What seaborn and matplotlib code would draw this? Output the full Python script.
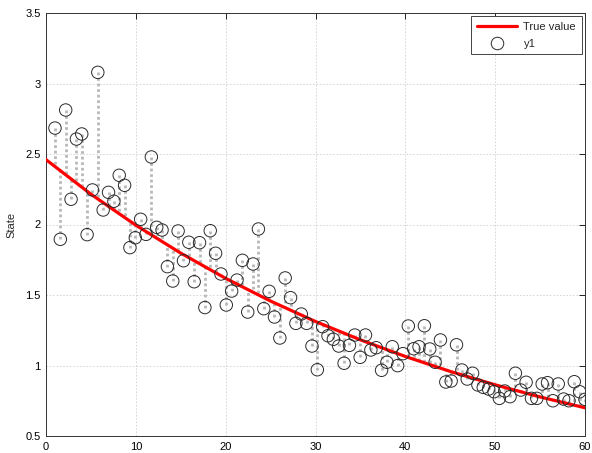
import numpy as np
import pandas as pd
import matplotlib
matplotlib.use("Agg")
import matplotlib.pyplot as plt
from matplotlib.lines import Line2D
import seaborn as sns

# Sample times and measured states
t = np.linspace(1, 60, 100)
y1 = [
    2.684, 1.895, 2.812, 2.179, 2.606, 2.642, 1.928, 2.245, 3.079, 2.103,
    2.228, 2.165, 2.349, 2.278, 1.836, 1.906, 2.037, 1.930, 2.479, 1.980,
    1.961, 1.701, 1.599, 1.954, 1.743, 1.874, 1.594, 1.871, 1.411, 1.956,
    1.796, 1.649, 1.429, 1.528, 1.606, 1.746, 1.379, 1.720, 1.968, 1.403,
    1.526, 1.344, 1.195, 1.621, 1.481, 1.299, 1.365, 1.299, 1.138, 0.970,
    1.275, 1.211, 1.186, 1.138, 1.016, 1.143, 1.216, 1.058, 1.216, 1.110,
    1.126, 0.966, 1.023, 1.133, 0.999, 1.084, 1.280, 1.119, 1.133, 1.282,
    1.117, 1.023, 1.181, 0.883, 0.890, 1.147, 0.968, 0.904, 0.945, 0.862,
    0.845, 0.833, 0.814, 0.767, 0.819, 0.779, 0.945, 0.826, 0.881, 0.767,
    0.767, 0.869, 0.878, 0.750, 0.869, 0.762, 0.750, 0.885, 0.814, 0.760,
]

# True state trajectory at knot times
true_t = [0, 5, 10, 15, 20, 25, 30, 35, 40, 45, 50, 55, 60]
true_value = [2.460, 2.215, 1.995, 1.797, 1.618, 1.457, 1.312,
              1.182, 1.064, 0.958, 0.863, 0.777, 0.700]

x_ticks = [0, 10, 20, 30, 40, 50, 60]
x_tick_labels = ["0", "10", "20", "30", "40", "50", "60"]
y_ticks = [0.5, 1, 1.5, 2, 2.5, 3, 3.5]
y_tick_labels = ["0.5", "1", "1.5", "2", "2.5", "3", "3.5"]

sns.set_style("white")
plt.rcParams["font.family"] = ["Liberation Sans", "DejaVu Sans"]

meas = pd.DataFrame({"t": t, "y1": y1})
truth = pd.DataFrame({"t": true_t, "value": true_value})

fig = plt.figure(figsize=(5.92, 4.53), dpi=100)
ax = fig.add_axes([46 / 592, 17 / 453, 539 / 592, 423 / 453])

# Residual stems from each measurement to the true trajectory
stem_end = np.interp(meas["t"], truth["t"], truth["value"])
ax.vlines(meas["t"], meas["y1"], stem_end, colors="#b8b8b8",
          linestyles=(0, (1, 1)), linewidth=2.0, zorder=2)

sns.lineplot(data=truth, x="t", y="value", color="red", linewidth=2.3,
             ax=ax, zorder=3, legend=False)
sns.scatterplot(data=meas, x="t", y="y1", marker="o", s=80, color="none",
                edgecolor="#2a2a2a", linewidth=0.7, ax=ax, zorder=4,
                legend=False)

ax.set_xlim(0, 60)
ax.set_ylim(0.5, 3.5)
ax.set_xticks(x_ticks)
ax.set_xticklabels(x_tick_labels)
ax.set_yticks(y_ticks)
ax.set_yticklabels(y_tick_labels)
ax.set_xlabel("")
ax.set_ylabel("State", fontsize=8, labelpad=6)

ax.grid(True, linestyle=(0, (2, 2)), color="#d0d0d0", linewidth=0.6)
ax.set_axisbelow(True)
for sp in ax.spines.values():
    sp.set_visible(True)
    sp.set_color("#333333")
    sp.set_linewidth(0.7)
ax.tick_params(direction="in", top=True, right=True, length=4, width=0.6,
               labelsize=8, colors="#000000", pad=4)

handles = [
    Line2D([], [], color="red", linewidth=2.3),
    Line2D([], [], linestyle="none", marker="o", markersize=9,
           markerfacecolor="none", markeredgecolor="#2a2a2a",
           markeredgewidth=0.7),
]
leg = ax.legend(handles, ["True value", "y1"], loc="upper right",
                fontsize=8, frameon=True, fancybox=False, framealpha=1,
                edgecolor="#444444", borderaxespad=0.3, handlelength=3.6,
                handletextpad=0.6, borderpad=0.5, labelspacing=0.6)
leg.get_frame().set_linewidth(0.7)

fig.savefig("out.png", dpi=100)
